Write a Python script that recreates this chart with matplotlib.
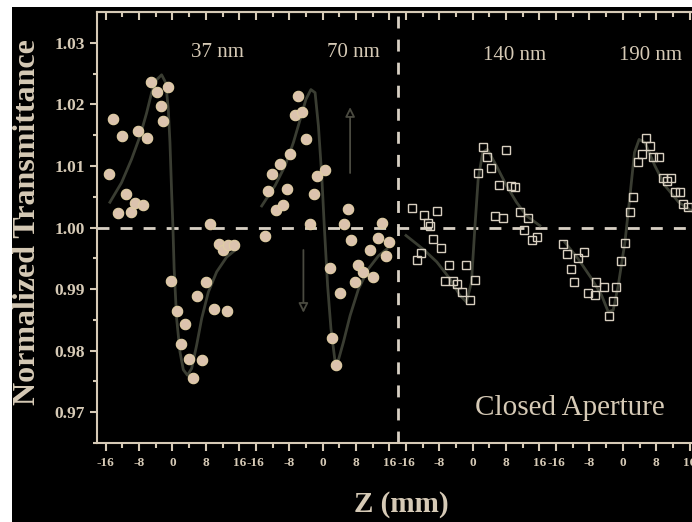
import matplotlib
matplotlib.use("Agg")
import matplotlib.pyplot as plt
from matplotlib.patches import Rectangle

plt.rcParams["font.family"] = ["Liberation Serif", "DejaVu Serif"]

# panel names and the gap between panels (one panel spans 32 mm, plus 4 mm gap)
panels = ["37 nm", "70 nm", "140 nm", "190 nm"]
panel_step = 36

# measured points, z in mm and normalized transmittance
z_37 = [-15.2, -14.2, -13.1, -12.0, -11.2, -10.0, -9.0, -8.2, -7.0, -6.0, -5.2, -3.8, -2.8, -2.2, -1.0,
        -0.4, 1.0, 2.0, 3.0, 4.0, 5.0, 6.0, 7.0, 8.0, 9.0, 10.0, 11.2, 12.2, 13.0, 13.4, 14.8]
t_37 = [1.0087, 1.0177, 1.0023, 1.0148, 1.0054, 1.0025, 1.0040, 1.0157, 1.0036, 1.0145, 1.0237, 1.0220,
        1.0198, 1.0173, 1.0229, 0.9913, 0.9864, 0.9810, 0.9843, 0.9787, 0.9756, 0.9889, 0.9785, 0.9911,
        1.0005, 0.9867, 0.9973, 0.9963, 0.9865, 0.9972, 0.9972]

z_70 = [-13.8, -13.0, -12.1, -11.2, -10.2, -9.4, -8.5, -7.7, -6.6, -5.8, -5.0, -4.0, -3.0, -2.1, -1.4, 0.6,
        1.8, 2.3, 3.2, 4.2, 5.1, 6.0, 6.8, 7.8, 8.6, 9.8, 11.4, 12.2, 13.2, 14.2, 15.1, 15.9]
t_70 = [0.9987, 1.0060, 1.0087, 1.0028, 1.0103, 1.0036, 1.0063, 1.0120, 1.0182, 1.0213, 1.0187, 1.0144,
        1.0006, 1.0055, 1.0084, 1.0093, 0.9934, 0.9821, 0.9777, 0.9894, 1.0005, 1.0030, 0.9980, 0.9911,
        0.9939, 0.9928, 0.9964, 0.9920, 0.9983, 1.0008, 0.9953, 0.9977]

z_140 = [-14.5, -13.4, -12.5, -11.7, -10.7, -10.2, -9.6, -8.5, -7.6, -6.7, -5.6, -4.7, -3.7, -2.6, -1.7,
         -0.7, 0.5, 1.3, 2.4, 3.5, 4.3, 5.3, 6.3, 7.3, 8.1, 9.3, 10.1, 11.3, 12.3, 13.2, 14.1, 15.3]
t_140 = [1.0031, 0.9947, 0.9958, 1.0020, 1.0008, 1.0002, 0.9981, 1.0027, 0.9966, 0.9913, 0.9939, 0.9913,
         0.9909, 0.9895, 0.9939, 0.9882, 0.9915, 1.0088, 1.0131, 1.0115, 1.0096, 1.0019, 1.0069, 1.0016,
         1.0126, 1.0068, 1.0065, 1.0025, 0.9996, 1.0015, 0.9979, 0.9984]

z_190 = [-14.3, -13.3, -12.4, -11.6, -10.7, -9.2, -8.3, -6.7, -6.4, -4.4, -3.3, -2.4, -1.6, -0.4, 0.5,
         1.7, 2.5, 3.7, 4.5, 5.5, 6.5, 7.3, 8.7, 9.7, 10.5, 11.5, 12.5, 13.7, 14.5, 15.7]
t_190 = [0.9973, 0.9957, 0.9933, 0.9912, 0.9950, 0.9960, 0.9893, 0.9890, 0.9912, 0.9903, 0.9857, 0.9880,
         0.9903, 0.9945, 0.9975, 1.0025, 1.0050, 1.0106, 1.0119, 1.0146, 1.0133, 1.0114, 1.0114, 1.0081,
         1.0076, 1.0081, 1.0058, 1.0058, 1.0038, 1.0034]

# fitted curves
fz_37 = [-15.0, -12.2, -9.8, -7.8, -6.2, -5.0, -3.8, -2.6, -1.6, -1.0, -0.6, -0.2, 0.1, 0.4, 1.0, 1.8,
         2.6, 3.6, 4.6, 5.8, 7.0, 8.6, 10.6, 13.0, 15.0]
ft_37 = [1.0041, 1.0073, 1.0111, 1.0148, 1.0186, 1.0219, 1.0240, 1.0248, 1.0235, 1.0192, 1.0138, 1.0057,
         1.0003, 0.9933, 0.9852, 0.9798, 0.9769, 0.9760, 0.9771, 0.9809, 0.9852, 0.9895, 0.9928, 0.9952,
         0.9963]
fz_70 = [-14.6, -11.4, -9.0, -7.0, -5.4, -4.0, -2.8, -1.8, -1.0, -0.2, 0.4, 1.2, 2.0, 3.0, 3.8, 5.0, 6.6,
         8.6, 11.0, 13.4, 15.4]
ft_70 = [1.0035, 1.0068, 1.0100, 1.0138, 1.0175, 1.0208, 1.0224, 1.0219, 1.0165, 1.0084, 1.0003, 0.9906,
         0.9836, 0.9782, 0.9785, 0.9814, 0.9857, 0.9900, 0.9933, 0.9954, 0.9965]
fz_140 = [-16.0, -11.9, -8.6, -5.5, -3.1, -1.5, -0.3, 0.5, 1.3, 2.4, 3.5, 5.7, 8.1, 10.5, 12.9, 16.1]
ft_140 = [0.9987, 0.9965, 0.9944, 0.9917, 0.9890, 0.9879, 0.9911, 0.9998, 1.0078, 1.0122, 1.0127, 1.0100,
          1.0068, 1.0041, 1.0019, 1.0003]
fz_190 = [-13.9, -10.7, -7.5, -5.1, -3.5, -2.3, -1.1, 0.5, 1.7, 2.8, 3.9, 5.3, 7.7, 10.1, 13.4, 16.5]
ft_190 = [0.9976, 0.9949, 0.9917, 0.9890, 0.9863, 0.9866, 0.9906, 0.9976, 1.0051, 1.0122, 1.0143, 1.0138,
          1.0100, 1.0068, 1.0041, 1.0027]

meas = [(z_37, t_37), (z_70, t_70), (z_140, t_140), (z_190, t_190)]
fits = [(fz_37, ft_37), (fz_70, ft_70), (fz_140, ft_140), (fz_190, ft_190)]
filled = [True, True, False, False]

# label positions (local z, T) for each panel title
label_z = [10.7, 7.3, 10.1, 6.7]
label_t = [1.0284, 1.0284, 1.0280, 1.0280]

# arrows in the 70 nm panel: (z, T start, T end)
arrow_up = (6.6, 1.0084, 1.0200)
arrow_down = (-4.6, 0.9968, 0.9857)

major_local = [-16, -8, 0, 8, 16]
minor_local = [-12, -4, 4, 12]

fg = "#d6cab6"
fit_color = "#3a3d32"

fig = plt.figure(figsize=(6.92, 5.22), dpi=100, facecolor="white")
fig.patches.append(Rectangle((12 / 692, 0), 1, 515 / 522, transform=fig.transFigure,
                             facecolor="black", edgecolor="none", zorder=-5))

ax = fig.add_axes([97.4 / 692, 79 / 522, 600.5 / 692, 431 / 522])
ax.set_facecolor("black")
ax.set_xlim(-18, 126)
ax.set_ylim(0.9653, 1.035)

for k, name in enumerate(panels):
    off = k * panel_step
    fz, ft = fits[k]
    ax.plot([z + off for z in fz], ft, color=fit_color, lw=2, zorder=2)
    z, t = meas[k]
    zg = [v + off for v in z]
    if filled[k]:
        ax.plot(zg, t, "o", ms=7.5, mfc="#dcc3ae", mec="#e0cea4", mew=0.8, zorder=3)
    else:
        ax.plot(zg, t, "s", ms=5.5, mfc="none", mec="#d8cfc0", mew=1.0, zorder=3)
    ax.text(label_z[k] + off, label_t[k], name, color=fg, fontsize=15, ha="center", va="center")

ax.axhline(1.0, color="#d8d0c4", lw=2, ls=(0, (4.3, 4)), zorder=1)
ax.axvline(1.5 * panel_step, color="#d8d0c4", lw=2, ls=(0, (4.3, 4)), zorder=1)

for (z, t0, t1) in (arrow_up, arrow_down):
    ax.annotate("", xy=(z + panel_step, t1), xytext=(z + panel_step, t0),
                arrowprops=dict(arrowstyle="-|>", color="#4a4a40", lw=1.3, mutation_scale=14,
                                fc="black"))

ax.text(95.2, 0.9707, "Closed Aperture", color=fg, fontsize=21, ha="center", va="center")

# ticks
majors = [m + k * panel_step for k in range(4) for m in major_local]
minors = [m + k * panel_step for k in range(4) for m in minor_local]
ax.set_xticks(majors)
ax.set_xticklabels([str(m) for k in range(4) for m in major_local])
ax.set_xticks(minors, minor=True)
ax.set_yticks([0.97, 0.98, 0.99, 1.00, 1.01, 1.02, 1.03])
ax.set_yticklabels(["0.97", "0.98", "0.99", "1.00", "1.01", "1.02", "1.03"])
ax.set_yticks([0.965, 0.975, 0.985, 0.995, 1.005, 1.015, 1.025], minor=True)

ax.tick_params(axis="x", which="major", direction="out", length=6, width=1.5, color=fg,
               labelcolor=fg, labelsize=9.5, pad=4)
ax.tick_params(axis="x", which="minor", direction="out", length=3.5, width=1.5, color=fg)
ax.tick_params(axis="y", which="major", direction="out", length=5, width=1.5, color=fg,
               labelcolor=fg, labelsize=12.5, pad=4)
ax.tick_params(axis="y", which="minor", direction="out", length=3, width=1.5, color=fg)
for lab in ax.get_xticklabels() + ax.get_yticklabels():
    lab.set_fontweight("bold")

top = ax.secondary_xaxis("top")
top.set_xticks(majors)
top.set_xticks(minors, minor=True)
top.tick_params(axis="x", which="major", direction="in", length=6, width=1.5, color=fg, labeltop=False)
top.tick_params(axis="x", which="minor", direction="in", length=3.5, width=1.5, color=fg)
top.spines["top"].set_color(fg)
top.spines["top"].set_linewidth(1.5)

for side in ("left", "bottom", "top"):
    ax.spines[side].set_color(fg)
    ax.spines[side].set_linewidth(1.5)
ax.spines["right"].set_visible(False)

fig.text(28 / 692, 1 - 222 / 522, "Normalized Transmittance", rotation=90, color=fg,
         fontsize=23, fontweight="bold", ha="center", va="center")
fig.text(401 / 692, 1 - 505 / 522, "Z (mm)", color=fg, fontsize=21, fontweight="bold",
         ha="center", va="center")

fig.savefig("out.png", dpi=100, facecolor=fig.get_facecolor())
